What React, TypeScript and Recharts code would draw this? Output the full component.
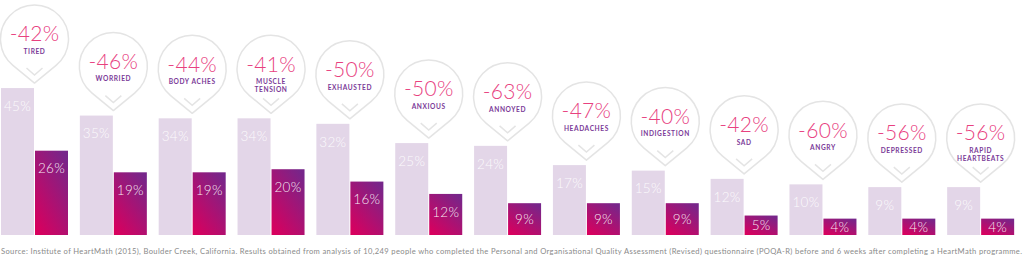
import React from 'react';
import { Bar, BarChart, XAxis, YAxis } from 'recharts';

// symptom labels ("\n" splits the two-line ones)
const symptoms = [
  'TIRED',
  'WORRIED',
  'BODY ACHES',
  'MUSCLE\nTENSION',
  'EXHAUSTED',
  'ANXIOUS',
  'ANNOYED',
  'HEADACHES',
  'INDIGESTION',
  'SAD',
  'ANGRY',
  'DEPRESSED',
  'RAPID\nHEARTBEATS',
];
const before = [45, 35, 34, 34, 32, 25, 24, 17, 15, 12, 10, 9, 9];
const after = [26, 19, 19, 20, 16, 12, 9, 9, 9, 5, 4, 4, 4];
const change = [-42, -46, -44, -41, -50, -50, -63, -47, -40, -42, -60, -56, -56];

const sourceText =
  'Source: Institute of HeartMath (2015), Boulder Creek, California. Results obtained from analysis of 10,249 people who completed the Personal and Organisational Quality Assessment (Revised) questionnaire (POQA-R) before and 6 weeks after completing a HeartMath programme.';

const FONT = 'Lato, "Open Sans", sans-serif';
const LIGHT = '#e3d6e8';
const PINK = '#e8417f';
const PURPLE = '#7b3a98';
const BUBBLE = '#e4e4e4';

const data = symptoms.map((name, i) => ({
  name,
  before: before[i],
  after: after[i],
  change: change[i],
}));

function bottomOf(props) {
  const bg = props.background;
  return bg ? bg.y + bg.height : props.y + props.height;
}

function Bubble({ cx, cy, pct, label }) {
  const r = 34;
  const tipY = cy + 44;
  const th = Math.acos(r / 44);
  const tx = r * Math.sin(th);
  const ty = r * Math.cos(th);
  const lines = label.split('\n');
  return (
    <g>
      <path
        d={`M${cx} ${tipY} L${cx - tx} ${cy + ty} A${r} ${r} 0 1 1 ${cx + tx} ${cy + ty} Z`}
        fill="none"
        stroke={BUBBLE}
        strokeWidth={1.5}
        strokeLinejoin="round"
      />
      <path
        d={`M${cx - 8} ${cy + 29} L${cx} ${cy + 36} L${cx + 8} ${cy + 29}`}
        fill="none"
        stroke={BUBBLE}
        strokeWidth={1.5}
      />
      <text
        x={cx}
        y={cy - 5}
        dy="0.35em"
        textAnchor="middle"
        fontFamily={FONT}
        fontWeight={300}
        fontSize={21}
        letterSpacing={0.3}
        fill={PINK}
      >
        {pct}%
      </text>
      {lines.map((l, i) => (
        <text
          key={i}
          x={cx}
          y={cy + 12.5 + i * 8}
          dy="0.35em"
          textAnchor="middle"
          fontFamily={FONT}
          fontWeight={700}
          fontSize={6.6}
          letterSpacing={0.6}
          fill={PURPLE}
        >
          {l}
        </text>
      ))}
    </g>
  );
}

function BeforeBar(props) {
  const { x, y, width, payload } = props;
  const bottom = bottomOf(props);
  const h = bottom - y;
  return (
    <g>
      <rect x={x} y={y} width={width} height={h} fill={LIGHT} />
      <text
        x={x + width / 2}
        y={Math.min(y + 18, y + h / 2)}
        dy="0.35em"
        textAnchor="middle"
        fontFamily={FONT}
        fontWeight={300}
        fontSize={13.5}
        letterSpacing={0.3}
        fill="#ffffff"
        fillOpacity={0.9}
      >
        {payload.before}%
      </text>
      <Bubble cx={x + width + 0.5} cy={y - 49} pct={payload.change} label={payload.name} />
    </g>
  );
}

function AfterBar(props) {
  const { x, y, width, payload } = props;
  const bottom = bottomOf(props);
  const h = bottom - y;
  return (
    <g>
      <rect x={x} y={y} width={width} height={h} fill="url(#afterGrad)" />
      <text
        x={x + width / 2}
        y={Math.min(y + 18, y + h / 2)}
        dy="0.35em"
        textAnchor="middle"
        fontFamily={FONT}
        fontWeight={300}
        fontSize={13.5}
        letterSpacing={0.3}
        fill="#ffffff"
        fillOpacity={0.92}
      >
        {payload.after}%
      </text>
    </g>
  );
}

export default function App() {
  return (
    <div style={{ position: 'relative', width: 1024, height: 256, background: '#fff' }}>
      <style>{'body{margin:0}'}</style>
      <BarChart
        width={1024}
        height={256}
        data={data}
        margin={{ top: 0, right: 4, bottom: 21, left: -5 }}
        barSize={33}
        barGap={1}
      >
        <defs>
          <linearGradient id="afterGrad" x1="0.15" y1="1" x2="0.85" y2="0">
            <stop offset="0%" stopColor="#d8005e" />
            <stop offset="100%" stopColor="#76268a" />
          </linearGradient>
        </defs>
        <XAxis dataKey="name" hide />
        <YAxis yAxisId="before" hide domain={[-8.4, 77]} allowDataOverflow />
        <YAxis yAxisId="after" hide domain={[-1.3, 74.8]} allowDataOverflow />
        <Bar yAxisId="before" dataKey="before" shape={BeforeBar} isAnimationActive={false} />
        <Bar yAxisId="after" dataKey="after" shape={AfterBar} isAnimationActive={false} />
      </BarChart>
      <svg
        width={1024}
        height={20}
        style={{ position: 'absolute', left: 0, top: 240 }}
      >
        <text
          x={1}
          y={11}
          dy="0.35em"
          fontFamily={FONT}
          fontSize={7.6}
          fill="#8a8a8a"
          textLength={1021}
          lengthAdjust="spacing"
        >
          {sourceText}
        </text>
      </svg>
    </div>
  );
}
